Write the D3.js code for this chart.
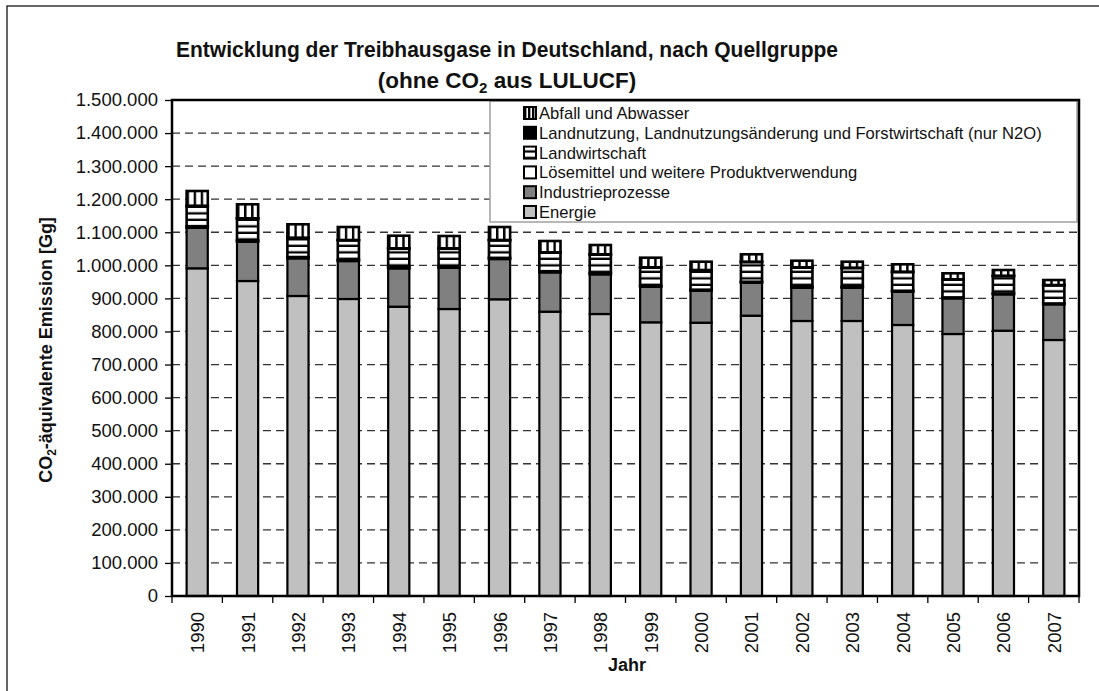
<!DOCTYPE html>
<html>
<head>
<meta charset="utf-8">
<script src="https://cdn.jsdelivr.net/npm/d3@7"></script>
<style>
    body { margin: 0; background: #fff; }
    svg { display: block; font-family: "Liberation Sans", Arial, sans-serif; }
</style>
</head>
<body>
<div id="chart"></div>
<script>
// Gg CO2-Aequivalente
var jahre = ['1990', '1991', '1992', '1993', '1994', '1995', '1996', '1997', '1998',
    '1999', '2000', '2001', '2002', '2003', '2004', '2005', '2006', '2007'];

var energie = [991000, 952600, 907300, 898200, 874900, 867900, 897300, 859800, 852800,
    827700, 826500, 847700, 831700, 831700, 819600, 792300, 802300, 774200];
var industrie = [122800, 118900, 114000, 114900, 116100, 124900, 121900, 119100, 120100,
    107700, 96800, 99800, 100700, 100700, 100700, 108000, 110100, 108000];
var loesemittel = [4000, 3900, 3800, 3700, 3600, 3500, 3400, 3300, 3200,
    3100, 3000, 2900, 2800, 2700, 2600, 2500, 2400, 2400];
var landwirtschaft = [61600, 65900, 57600, 58900, 56000, 54300, 53100, 56300, 56400,
    54700, 58700, 59700, 58000, 56800, 56900, 54100, 52900, 55000];
var landnutzung = [900, 900, 900, 900, 900, 900, 900, 900, 900,
    900, 900, 900, 900, 900, 900, 900, 900, 900];
var abfall = [44500, 42400, 40500, 39300, 38100, 37200, 39300, 34200, 28100,
    29000, 25100, 22400, 19900, 18200, 22400, 18100, 17300, 15100];

var yTicks = [0, 100000, 200000, 300000, 400000, 500000, 600000, 700000, 800000,
    900000, 1000000, 1100000, 1200000, 1300000, 1400000, 1500000];

// Reihenfolge von unten nach oben
var gruppen = [
    { key: 'energie', name: 'Energie', fill: '#c0c0c0', values: energie },
    { key: 'industrie', name: 'Industrieprozesse', fill: '#808080', values: industrie },
    { key: 'loesemittel', name: 'Lösemittel und weitere Produktverwendung', fill: '#ffffff', values: loesemittel },
    { key: 'landwirtschaft', name: 'Landwirtschaft', fill: 'url(#hstripe)', values: landwirtschaft },
    { key: 'landnutzung', name: 'Landnutzung, Landnutzungsänderung und Forstwirtschaft (nur N2O)', fill: '#000000', values: landnutzung },
    { key: 'abfall', name: 'Abfall und Abwasser', fill: 'url(#vstripe)', values: abfall }
];

var width = 1099, height = 691;
var plot = { left: 172, right: 1079, top: 100, bottom: 596 };

var de = d3.formatLocale({ decimal: ',', thousands: '.', grouping: [3], currency: ['', ' €'] });
var fmt = de.format(',d');

var svg = d3.select('#chart').append('svg')
    .attr('width', width)
    .attr('height', height);

var defs = svg.append('defs');

// senkrechte Streifen: drei Spalten je Balken
var vs = defs.append('pattern')
    .attr('id', 'vstripe')
    .attr('patternUnits', 'objectBoundingBox')
    .attr('width', 1 / 3).attr('height', 1);
vs.append('rect').attr('width', 50).attr('height', 1000).attr('fill', '#fff');
vs.append('rect').attr('width', 2.4).attr('height', 1000).attr('fill', '#000');

var hs = defs.append('pattern')
    .attr('id', 'hstripe')
    .attr('patternUnits', 'userSpaceOnUse')
    .attr('width', 50).attr('height', 6.5);
hs.append('rect').attr('width', 50).attr('height', 6.5).attr('fill', '#fff');
hs.append('rect').attr('y', 4.2).attr('width', 50).attr('height', 2.3).attr('fill', '#000');

// Rahmen der Abbildung
svg.append('rect')
    .attr('x', 7).attr('y', 6)
    .attr('width', width + 20).attr('height', height + 20)
    .attr('fill', 'none')
    .attr('stroke', '#000')
    .attr('stroke-width', 1.2);

var x = d3.scaleBand()
    .domain(jahre)
    .range([plot.left, plot.right])
    .paddingInner(0.58)
    .paddingOuter(0.29);

var y = d3.scaleLinear()
    .domain([0, 1500000])
    .range([plot.bottom, plot.top]);

// Gitterlinien
svg.append('g')
    .selectAll('line')
    .data(yTicks.filter(function (d) { return d > 0 && d < 1500000; }))
    .enter().append('line')
    .attr('x1', plot.left).attr('x2', plot.right)
    .attr('y1', function (d) { return y(d); })
    .attr('y2', function (d) { return y(d); })
    .attr('stroke', '#333')
    .attr('stroke-width', 1.3)
    .attr('stroke-dasharray', '8,5');

// Legende (liegt unter der oberen Rahmenlinie)
var legend = svg.append('g');
legend.append('rect')
    .attr('x', 490).attr('y', 101)
    .attr('width', 587).attr('height', 121)
    .attr('fill', '#fff')
    .attr('stroke', '#a0a0a0')
    .attr('stroke-width', 1.5);

var legItems = gruppen.slice().reverse();
var li = legend.selectAll('.item')
    .data(legItems)
    .enter().append('g')
    .attr('class', 'item')
    .attr('transform', function (d, i) { return 'translate(524,' + (113 + i * 19.8) + ')'; });

li.append('rect')
    .attr('x', 0).attr('y', -6)
    .attr('width', 12).attr('height', 12)
    .attr('fill', function (d) { return d.fill; })
    .attr('stroke', '#000')
    .attr('stroke-width', 2);

li.append('text')
    .attr('x', 15).attr('y', 6)
    .attr('font-size', 16.6)
    .attr('fill', '#111')
    .text(function (d) { return d.name; });

// Stapel
var tabelle = jahre.map(function (j, i) {
    var row = { jahr: j };
    gruppen.forEach(function (g) { row[g.key] = g.values[i]; });
    return row;
});

var stack = d3.stack().keys(gruppen.map(function (g) { return g.key; }));
var serien = stack(tabelle);

svg.append('g')
    .selectAll('g')
    .data(serien)
    .enter().append('g')
    .attr('fill', function (d, i) { return gruppen[i].fill; })
    .selectAll('rect')
    .data(function (d) { return d; })
    .enter().append('rect')
    .attr('x', function (d) { return x(d.data.jahr); })
    .attr('width', x.bandwidth())
    .attr('y', function (d) { return y(d[1]); })
    .attr('height', function (d) { return y(d[0]) - y(d[1]); })
    .attr('stroke', '#000')
    .attr('stroke-width', function (d) { return d[0] > 1000000 || d[1] - d[0] < 70000 ? 2.6 : 2.2; });

// Achsen
var yAxis = svg.append('g')
    .attr('transform', 'translate(' + plot.left + ',0)')
    .call(d3.axisLeft(y).tickValues(yTicks).tickFormat(fmt).tickSize(7).tickPadding(7));
yAxis.select('.domain').remove();
yAxis.selectAll('text').attr('font-size', 18.5).attr('fill', '#111').attr('font-family', '"Liberation Sans", Arial, sans-serif');
yAxis.selectAll('line').attr('stroke-width', 1.3);

var bounds = jahre.map(function (j) { return x(j) - x.step() * x.paddingInner() / 2; });
bounds.push(plot.right);
svg.append('g')
    .selectAll('line')
    .data(bounds)
    .enter().append('line')
    .attr('x1', function (d) { return d; }).attr('x2', function (d) { return d; })
    .attr('y1', plot.bottom).attr('y2', plot.bottom + 7)
    .attr('stroke', '#000')
    .attr('stroke-width', 1.3);

svg.append('g')
    .selectAll('text')
    .data(jahre)
    .enter().append('text')
    .attr('transform', function (d) {
        return 'translate(' + (x(d) + x.bandwidth() / 2 + 7) + ',' + (plot.bottom + 16) + ') rotate(-90)';
    })
    .attr('text-anchor', 'end')
    .attr('font-size', 18.5)
    .attr('fill', '#111')
    .text(function (d) { return d; });

// Rahmen der Zeichenflaeche
svg.append('rect')
    .attr('x', plot.left).attr('y', plot.top)
    .attr('width', plot.right - plot.left)
    .attr('height', plot.bottom - plot.top)
    .attr('fill', 'none')
    .attr('stroke', '#000')
    .attr('stroke-width', 2.5);

// Titel
svg.append('text')
    .attr('x', 176).attr('y', 57)
    .attr('font-size', 22.5)
    .attr('font-weight', 'bold')
    .attr('fill', '#111')
    .attr('textLength', 662)
    .attr('lengthAdjust', 'spacingAndGlyphs')
    .text('Entwicklung der Treibhausgase in Deutschland, nach Quellgruppe');

var t2 = svg.append('text')
    .attr('x', 507).attr('y', 88)
    .attr('text-anchor', 'middle')
    .attr('font-size', 22.5)
    .attr('font-weight', 'bold')
    .attr('fill', '#111');
t2.append('tspan').text('(ohne CO');
t2.append('tspan').attr('font-size', 15).attr('dy', 5).text('2');
t2.append('tspan').attr('dy', -5).text(' aus LULUCF)');

svg.append('text')
    .attr('x', 627).attr('y', 671)
    .attr('text-anchor', 'middle')
    .attr('font-size', 18)
    .attr('font-weight', 'bold')
    .attr('fill', '#111')
    .text('Jahr');

var yt = svg.append('text')
    .attr('transform', 'translate(52,' + ((plot.top + plot.bottom) / 2 + 2) + ') rotate(-90)')
    .attr('text-anchor', 'middle')
    .attr('font-size', 18)
    .attr('font-weight', 'bold')
    .attr('fill', '#111');
yt.append('tspan').text('CO');
yt.append('tspan').attr('font-size', 12).attr('dy', 4).text('2');
yt.append('tspan').attr('dy', -4).text('-äquivalente Emission [Gg]');
</script>
</body>
</html>
